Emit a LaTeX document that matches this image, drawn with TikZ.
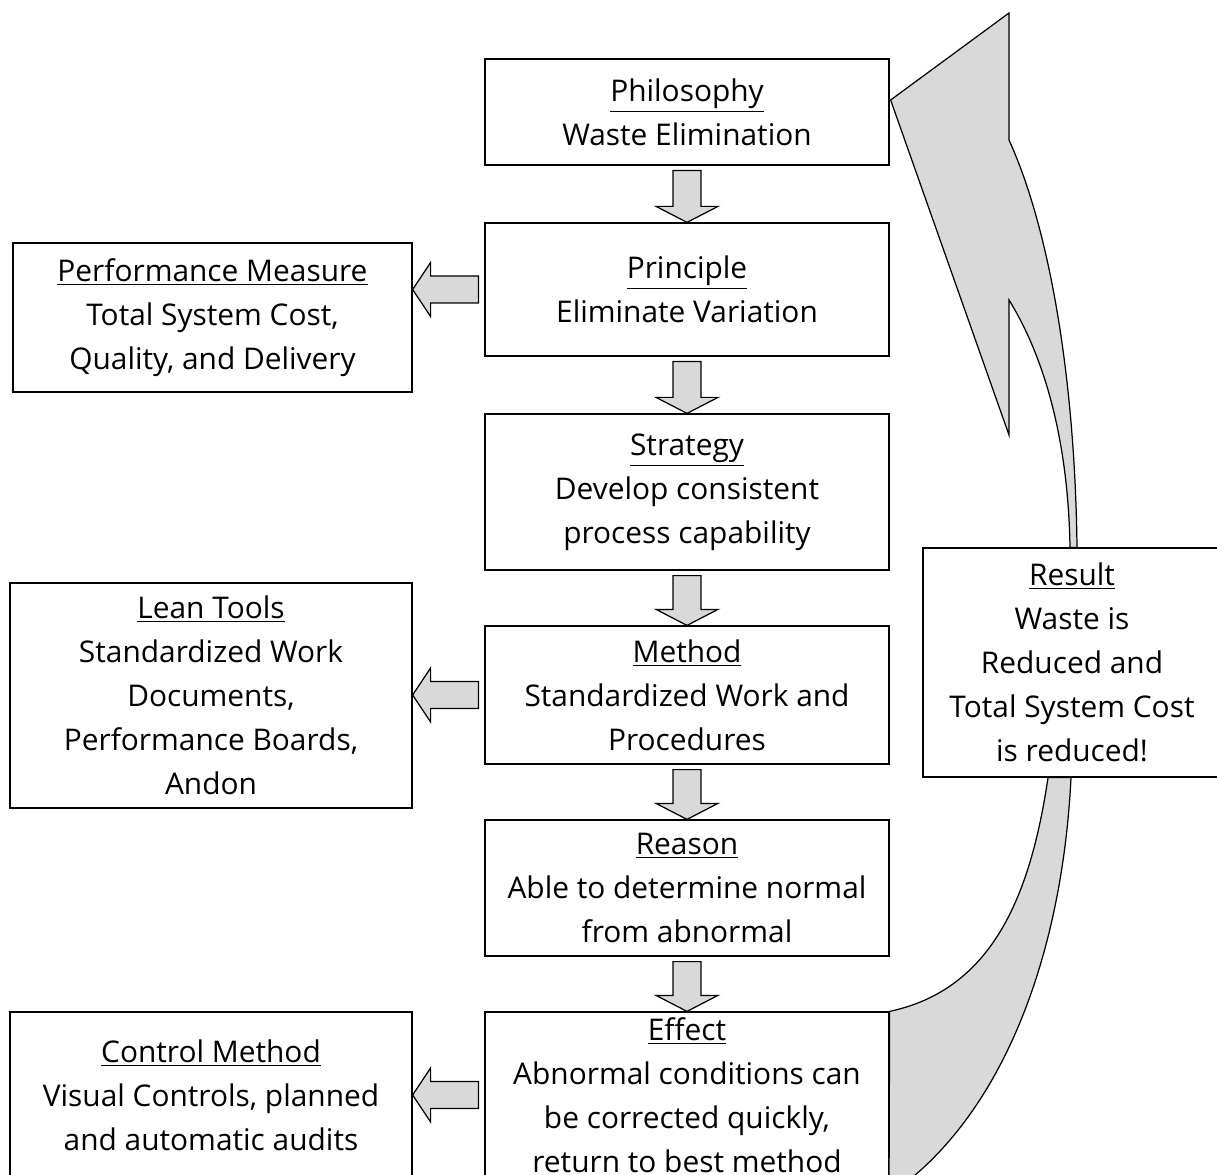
\documentclass[tikz,border=0pt]{standalone}
\usepackage{fontspec}
\setmainfont{Open Sans}
\usepackage{tikz}
\usetikzlibrary{calc}

\definecolor{arrgray}{RGB}{217,217,217}

%% block arrow pointing down, from box #1 to box #2
\newcommand{\downblock}[2]{%
  \draw[blk] ($(#1.south)+(-14,5)$) -- ($(#2.north)+(-14,-16)$)
    -- ($(#2.north)+(-31,-16)$) -- (#2.north) -- ($(#2.north)+(31,-16)$)
    -- ($(#2.north)+(14,-16)$) -- ($(#1.south)+(14,5)$) -- cycle;}
%% block arrow pointing left, from box #1 to box #2
\newcommand{\leftblock}[2]{%
  \path (#2.east |- #1.west) coordinate (lbtip);
  \draw[blk] ($(#1.west)+(-6,-13.5)$) -- ($(lbtip)+(18,-13.5)$)
    -- ($(lbtip)+(18,-27)$) -- (lbtip) -- ($(lbtip)+(18,27)$)
    -- ($(lbtip)+(18,13.5)$) -- ($(#1.west)+(-6,13.5)$) -- cycle;}

\begin{document}
\begin{tikzpicture}[
  x=0.02cm, y=-0.02cm,
  every node/.style={font=\fontsize{17}{25}\selectfont},
  box/.style n args={2}{draw, line width=0.7pt, align=center, inner sep=0,
    minimum width=#1*0.02cm, minimum height=#2*0.02cm},
  blk/.style={draw, line width=0.7pt, fill=arrgray, line join=miter},
]
\useasboundingbox (0,0) rectangle (1217,1175);

%% ── main column ─────────────────────────────────────────────
\node[box={404}{106}] (phil)  at (687,112)   {\underline{Philosophy}\\Waste Elimination};
\node[box={404}{133}] (princ) at (687,289.5) {\underline{Principle}\\Eliminate Variation};
\node[box={404}{156}] (strat) at (687,492)   {\underline{Strategy}\\Develop consistent\\process capability};
\node[box={404}{138}] (meth)  at (687,695)   {\underline{Method}\\Standardized Work and\\Procedures};
\node[box={404}{136}] (reas)  at (687,888)   {\underline{Reason}\\Able to determine normal\\from abnormal};
\node[box={404}{166}] (eff)   at (687,1095)  {\underline{Effect}\\Abnormal conditions can\\be corrected quickly,\\return to best method};

%% ── side boxes ──────────────────────────────────────────────
\node[box={399}{149}] (perf)   at (212.5,317.5) {\underline{Performance Measure}\\Total System Cost,\\Quality, and Delivery};
\node[box={402}{225}] (tools)  at (211,695.5)   {\underline{Lean Tools}\\Standardized Work\\Documents,\\Performance Boards,\\Andon};
\node[box={402}{166}] (ctrl)   at (211,1095)    {\underline{Control Method}\\Visual Controls, planned\\and automatic audits};
\node[box={298}{229}] (result) at (1072,662.5)  {\underline{Result}\\Waste is\\Reduced and\\Total System Cost\\is reduced!};

%% ── block arrows ────────────────────────────────────────────
\downblock{phil}{princ}
\downblock{princ}{strat}
\downblock{strat}{meth}
\downblock{meth}{reas}
\downblock{reas}{eff}
\leftblock{princ}{perf}
\leftblock{meth}{tools}
\leftblock{eff}{ctrl}

%% ── feedback arrow: effect -> result -> philosophy ─────────
\draw[blk] ($(result.south)+(-24,0)$) .. controls (1030,900) and (990,990) .. (eff.north east)
  -- (889,1195) .. controls (1000,1120) and (1062,960) .. ($(result.south)+(-1,0)$) -- cycle;
\draw[blk] ($(phil.east)+(1,-12)$) -- (1009,13) -- (1009,140)
  .. controls (1050,230) and (1075,380) .. ($(result.north)+(5,0)$)
  -- ($(result.north)+(-2,0)$) .. controls (1068,430) and (1040,350) .. (1009,300)
  -- (1009,435) -- cycle;

\end{tikzpicture}
\end{document}
